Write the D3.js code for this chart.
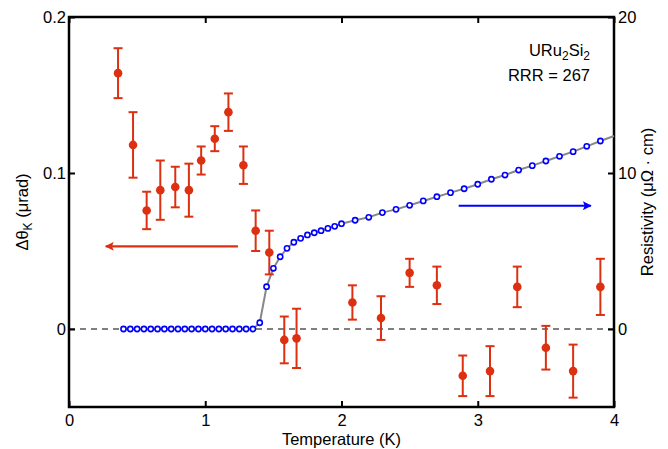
<!DOCTYPE html>
<html>
<script src="https://cdn.jsdelivr.net/npm/d3@7/dist/d3.min.js"></script>
<style>
  body, html { margin: 0; padding: 0; background: #fff; }
  svg { display: block; font-family: "Liberation Sans", Arial, sans-serif; }
</style>
<body>
<svg width="668" height="449"></svg>
<script>

  // Kerr rotation (left axis)
  var kerrT   = [0.36, 0.47, 0.57, 0.67, 0.78, 0.88, 0.97, 1.07, 1.17, 1.28, 1.37, 1.47,
                 1.58, 1.67, 2.08, 2.29, 2.50, 2.70, 2.89, 3.09, 3.29, 3.50, 3.70, 3.90];
  var kerr    = [0.164, 0.118, 0.076, 0.089, 0.091, 0.089, 0.108, 0.122, 0.139, 0.105, 0.063, 0.049,
                 -0.007, -0.006, 0.017, 0.007, 0.036, 0.028, -0.030, -0.027, 0.027, -0.012, -0.027, 0.027];
  var kerrErr = [0.016, 0.021, 0.012, 0.019, 0.013, 0.017, 0.009, 0.008, 0.012, 0.012, 0.013, 0.014,
                 0.015, 0.019, 0.011, 0.014, 0.009, 0.012, 0.013, 0.016, 0.013, 0.014, 0.017, 0.018];

  // resistivity (right axis)
  var rhoT = [0.40, 0.45, 0.50, 0.55, 0.60, 0.65, 0.70, 0.75, 0.80, 0.85, 0.90, 0.95, 1.00,
              1.05, 1.10, 1.15, 1.20, 1.25, 1.30, 1.35,
              1.40, 1.45, 1.50, 1.55, 1.60, 1.65, 1.70, 1.75, 1.80, 1.85, 1.90, 1.95, 2.00,
              2.1, 2.2, 2.3, 2.4, 2.5, 2.6, 2.7, 2.8, 2.9, 3.0, 3.1, 3.2, 3.3, 3.4, 3.5,
              3.6, 3.7, 3.8, 3.9];
  var rho  = [0, 0, 0, 0, 0, 0, 0, 0, 0, 0, 0, 0, 0,
              0, 0, 0, 0, 0, 0, 0,
              0.40, 2.71, 3.89, 4.63, 5.17, 5.56, 5.81, 6.03, 6.17, 6.30, 6.45, 6.58, 6.75,
              6.97, 7.16, 7.46, 7.67, 7.93, 8.21, 8.48, 8.74, 8.99, 9.28, 9.60, 9.87, 10.19, 10.47, 10.77,
              11.07, 11.37, 11.71, 12.05];
  // continuous trace continues to the edge
  var rhoEndT = 4.0, rhoEnd = 12.37;

  var xTicks = [0, 1, 2, 3, 4];
  var yTicks = [0, 0.1, 0.2];
  var y2Ticks = [0, 10, 20];

  var red = '#dd3011', blue = '#0000ff';
  var svg = d3.select('svg');
  var m = {left: 69, right: 614, top: 17, bottom: 407};

  var x = d3.scaleLinear().domain([0, 4]).range([m.left, m.right]);
  var y = d3.scaleLinear().domain([-0.05, 0.2]).range([m.bottom, m.top]);
  var y2 = d3.scaleLinear().domain([-5, 20]).range([m.bottom, m.top]);

  // zero line
  svg.append('line')
    .attr('x1', x(0)).attr('x2', x(4))
    .attr('y1', y(0)).attr('y2', y(0))
    .attr('stroke', '#000').attr('stroke-width', 1)
    .attr('stroke-dasharray', '6,5');

  // axes, ticks inward
  var fs = '16.5px';
  function styleAxis(g) {
    g.selectAll('.domain').remove();
    g.selectAll('.tick line').attr('stroke', '#000').attr('stroke-width', 2);
    g.selectAll('.tick text').attr('font-size', fs).attr('fill', '#000')
      .attr('font-family', '"Liberation Sans", Arial, sans-serif');
  }
  svg.append('g').attr('transform', 'translate(0,' + m.bottom + ')')
    .call(d3.axisBottom(x).tickValues(xTicks).tickFormat(d3.format('d')).tickSizeInner(-6).tickPadding(7))
    .call(styleAxis);
  svg.append('g').attr('transform', 'translate(0,' + m.top + ')')
    .call(d3.axisTop(x).tickValues(xTicks).tickSizeInner(-6).tickFormat(''))
    .call(styleAxis);
  svg.append('g').attr('transform', 'translate(' + m.left + ',0)')
    .call(d3.axisLeft(y).tickValues(yTicks).tickFormat(function (d) { return d === 0 ? '0' : d3.format('.1f')(d); }).tickSizeInner(-6).tickPadding(3))
    .call(styleAxis);
  svg.append('g').attr('transform', 'translate(' + m.right + ',0)')
    .call(d3.axisRight(y2).tickValues(y2Ticks).tickFormat(d3.format('d')).tickSizeInner(-6).tickPadding(4))
    .call(styleAxis);

  svg.append('rect')
    .attr('x', m.left).attr('y', m.top)
    .attr('width', m.right - m.left).attr('height', m.bottom - m.top)
    .attr('fill', 'none').attr('stroke', '#000').attr('stroke-width', 2.5);

  // resistivity trace
  var lineData = rhoT.map(function (t, i) { return [t, rho[i]]; });
  lineData.push([rhoEndT, rhoEnd]);
  svg.append('path')
    .datum(lineData)
    .attr('fill', 'none').attr('stroke', '#888').attr('stroke-width', 2)
    .attr('d', d3.line().x(function (d) { return x(d[0]); }).y(function (d) { return y2(d[1]); }));

  svg.selectAll('circle.rho').data(rhoT).enter()
    .append('circle').attr('class', 'rho')
    .attr('cx', function (d) { return x(d); })
    .attr('cy', function (d, i) { return y2(rho[i]); })
    .attr('r', 2.6)
    .attr('fill', '#fff').attr('stroke', blue).attr('stroke-width', 1.6);

  // kerr points with error bars
  var eb = svg.selectAll('g.kerr').data(kerrT).enter().append('g').attr('class', 'kerr');
  eb.append('line')
    .attr('x1', function (d) { return x(d); }).attr('x2', function (d) { return x(d); })
    .attr('y1', function (d, i) { return y(kerr[i] + kerrErr[i]); })
    .attr('y2', function (d, i) { return y(kerr[i] - kerrErr[i]); })
    .attr('stroke', red).attr('stroke-width', 2);
  [1, -1].forEach(function (s) {
    eb.append('line')
      .attr('x1', function (d) { return x(d) - 4.5; }).attr('x2', function (d) { return x(d) + 4.5; })
      .attr('y1', function (d, i) { return y(kerr[i] + s * kerrErr[i]); })
      .attr('y2', function (d, i) { return y(kerr[i] + s * kerrErr[i]); })
      .attr('stroke', red).attr('stroke-width', 2);
  });
  eb.append('circle')
    .attr('cx', function (d) { return x(d); })
    .attr('cy', function (d, i) { return y(kerr[i]); })
    .attr('r', 4.3).attr('fill', red);

  // arrows
  var defs = svg.append('defs');
  [['ar', red], ['ab', blue]].forEach(function (a) {
    defs.append('marker').attr('id', a[0])
      .attr('viewBox', '0 0 10 10').attr('refX', 9).attr('refY', 5)
      .attr('markerWidth', 5).attr('markerHeight', 4)
      .attr('markerUnits', 'strokeWidth').attr('orient', 'auto')
      .append('path').attr('d', 'M0,0 L10,5 L0,10 L2,5 Z').attr('fill', a[1]);
  });
  svg.append('line')
    .attr('x1', x(1.24)).attr('x2', x(0.27))
    .attr('y1', y(0.053)).attr('y2', y(0.053))
    .attr('stroke', red).attr('stroke-width', 2.2).attr('marker-end', 'url(#ar)');
  svg.append('line')
    .attr('x1', x(2.86)).attr('x2', x(3.83))
    .attr('y1', y2(7.9)).attr('y2', y2(7.9))
    .attr('stroke', blue).attr('stroke-width', 2.2).attr('marker-end', 'url(#ab)');

  // annotation
  var ann = svg.append('text').attr('x', 590).attr('y', 56)
    .attr('text-anchor', 'end').attr('font-size', fs);
  ann.append('tspan').text('URu');
  ann.append('tspan').attr('font-size', '12px').attr('dy', 4).text('2');
  ann.append('tspan').attr('dy', -4).text('Si');
  ann.append('tspan').attr('font-size', '12px').attr('dy', 4).text('2');
  svg.append('text').attr('x', 590).attr('y', 81)
    .attr('text-anchor', 'end').attr('font-size', fs).text('RRR = 267');

  // axis titles
  svg.append('text').attr('x', x(2)).attr('y', 445)
    .attr('text-anchor', 'middle').attr('font-size', fs).text('Temperature (K)');

  var yl = svg.append('text')
    .attr('transform', 'translate(28,' + ((m.top + m.bottom) / 2) + ') rotate(-90)')
    .attr('text-anchor', 'middle').attr('font-size', fs);
  yl.append('tspan').text('\u0394\u03b8');
  yl.append('tspan').attr('font-size', '12px').attr('dy', 4).text('K');
  yl.append('tspan').attr('dy', -4).text(' (\u03bcrad)');

  svg.append('text')
    .attr('transform', 'translate(653,202) rotate(-90)')
    .attr('text-anchor', 'middle').attr('font-size', fs)
    .text('Resistivity (\u03bc\u03a9 \u00b7 cm)');

</script>
</body>
</html>
